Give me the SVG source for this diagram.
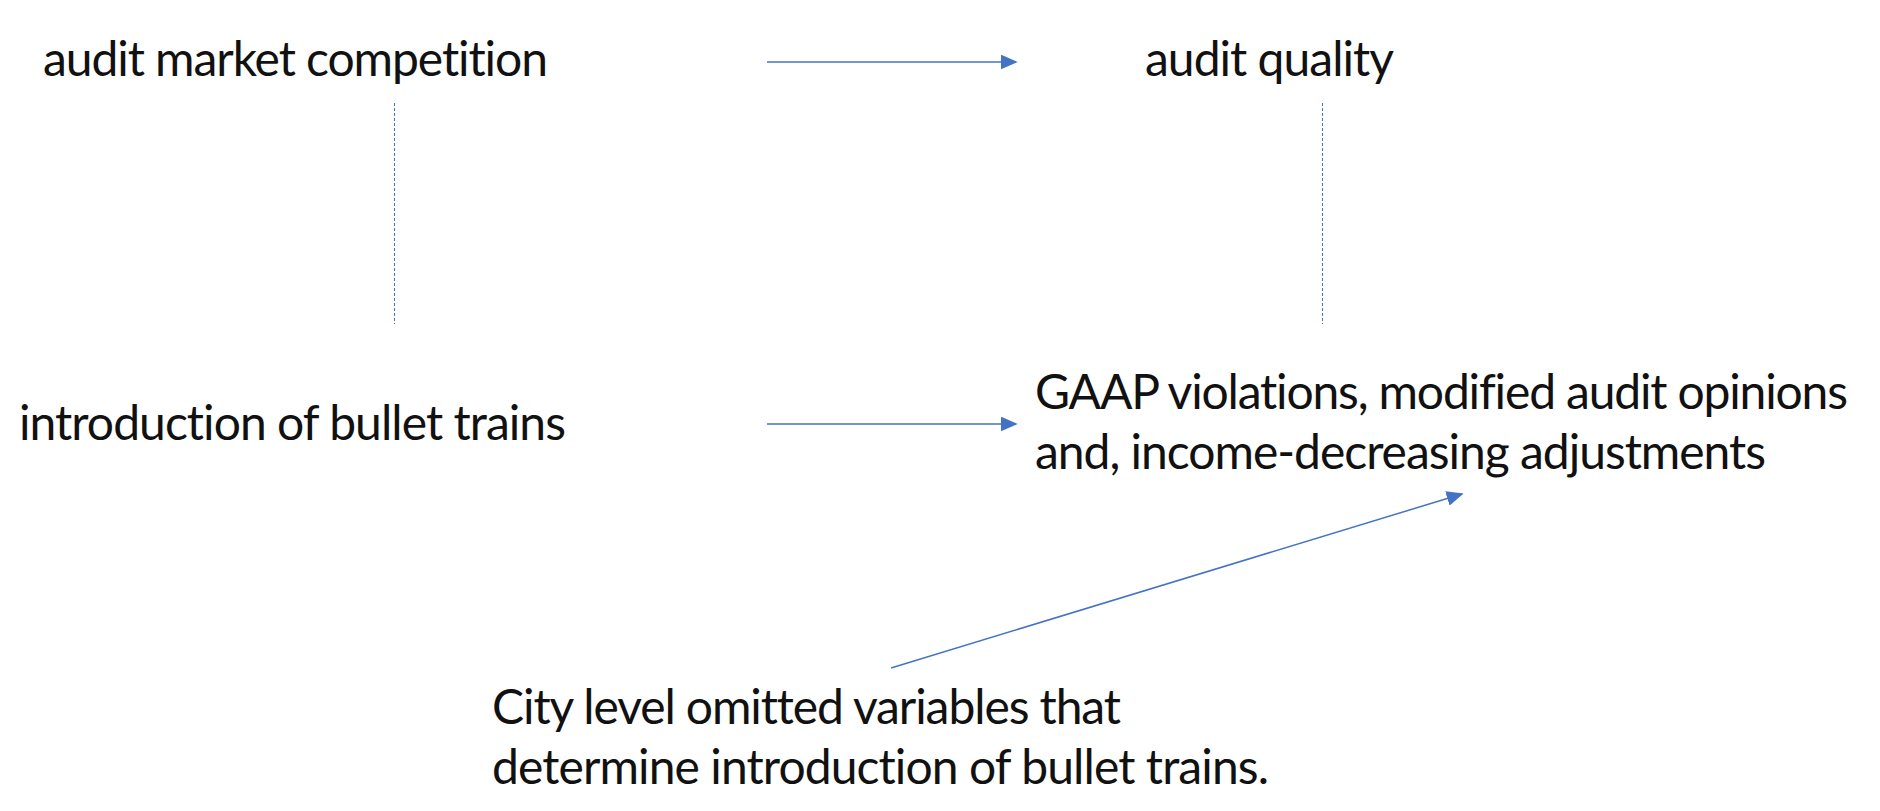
<svg xmlns="http://www.w3.org/2000/svg" width="1880" height="811" viewBox="0 0 1880 811">
<style>
.t{font-family:Lato,"Open Sans","Liberation Sans",sans-serif;font-size:48px;fill:#111;font-variant-ligatures:none;font-feature-settings:"liga" 0,"clig" 0}
.a{stroke:#4472C4;stroke-width:1.5;fill:none}
.d{stroke:#4472C4;stroke-width:1;stroke-dasharray:3,2;fill:none}
</style>
<defs>
<marker id="ah2" viewBox="0 0 10 10" refX="9" refY="5" markerWidth="17" markerHeight="15" orient="auto" markerUnits="userSpaceOnUse" preserveAspectRatio="none">
<path d="M0,0 L10,5 L0,10 Z" fill="#4472C4"/>
</marker>
</defs>
<rect width="1880" height="811" fill="#fff"/>
<g id="n1"><text class="t" x="43" y="76" textLength="505">audit market competition</text></g>
<g id="n2"><text class="t" x="1145" y="76" textLength="249">audit quality</text></g>
<g id="n3"><text class="t" x="19" y="440" textLength="547">introduction of bullet trains</text></g>
<g id="n4"><text class="t" x="1035" y="409" textLength="813">GAAP violations, modified audit opinions</text><text class="t" x="1035" y="469" textLength="731">and, income-decreasing adjustments</text></g>
<g id="n5"><text class="t" x="492" y="724" textLength="629">City level omitted variables that</text><text class="t" x="492" y="784" textLength="777">determine introduction of bullet trains.</text></g>
<g id="connectors">
<line class="a" x1="767" y1="62" x2="1016" y2="62" marker-end="url(#ah2)"/>
<line class="a" x1="767" y1="424" x2="1016" y2="424" marker-end="url(#ah2)"/>
<line class="a" x1="891" y1="668" x2="1462" y2="494" marker-end="url(#ah2)"/>
<line class="d" x1="394.5" y1="103" x2="394.5" y2="324"/>
<line class="d" x1="1322.5" y1="103" x2="1322.5" y2="324"/>
</g>
</svg>
